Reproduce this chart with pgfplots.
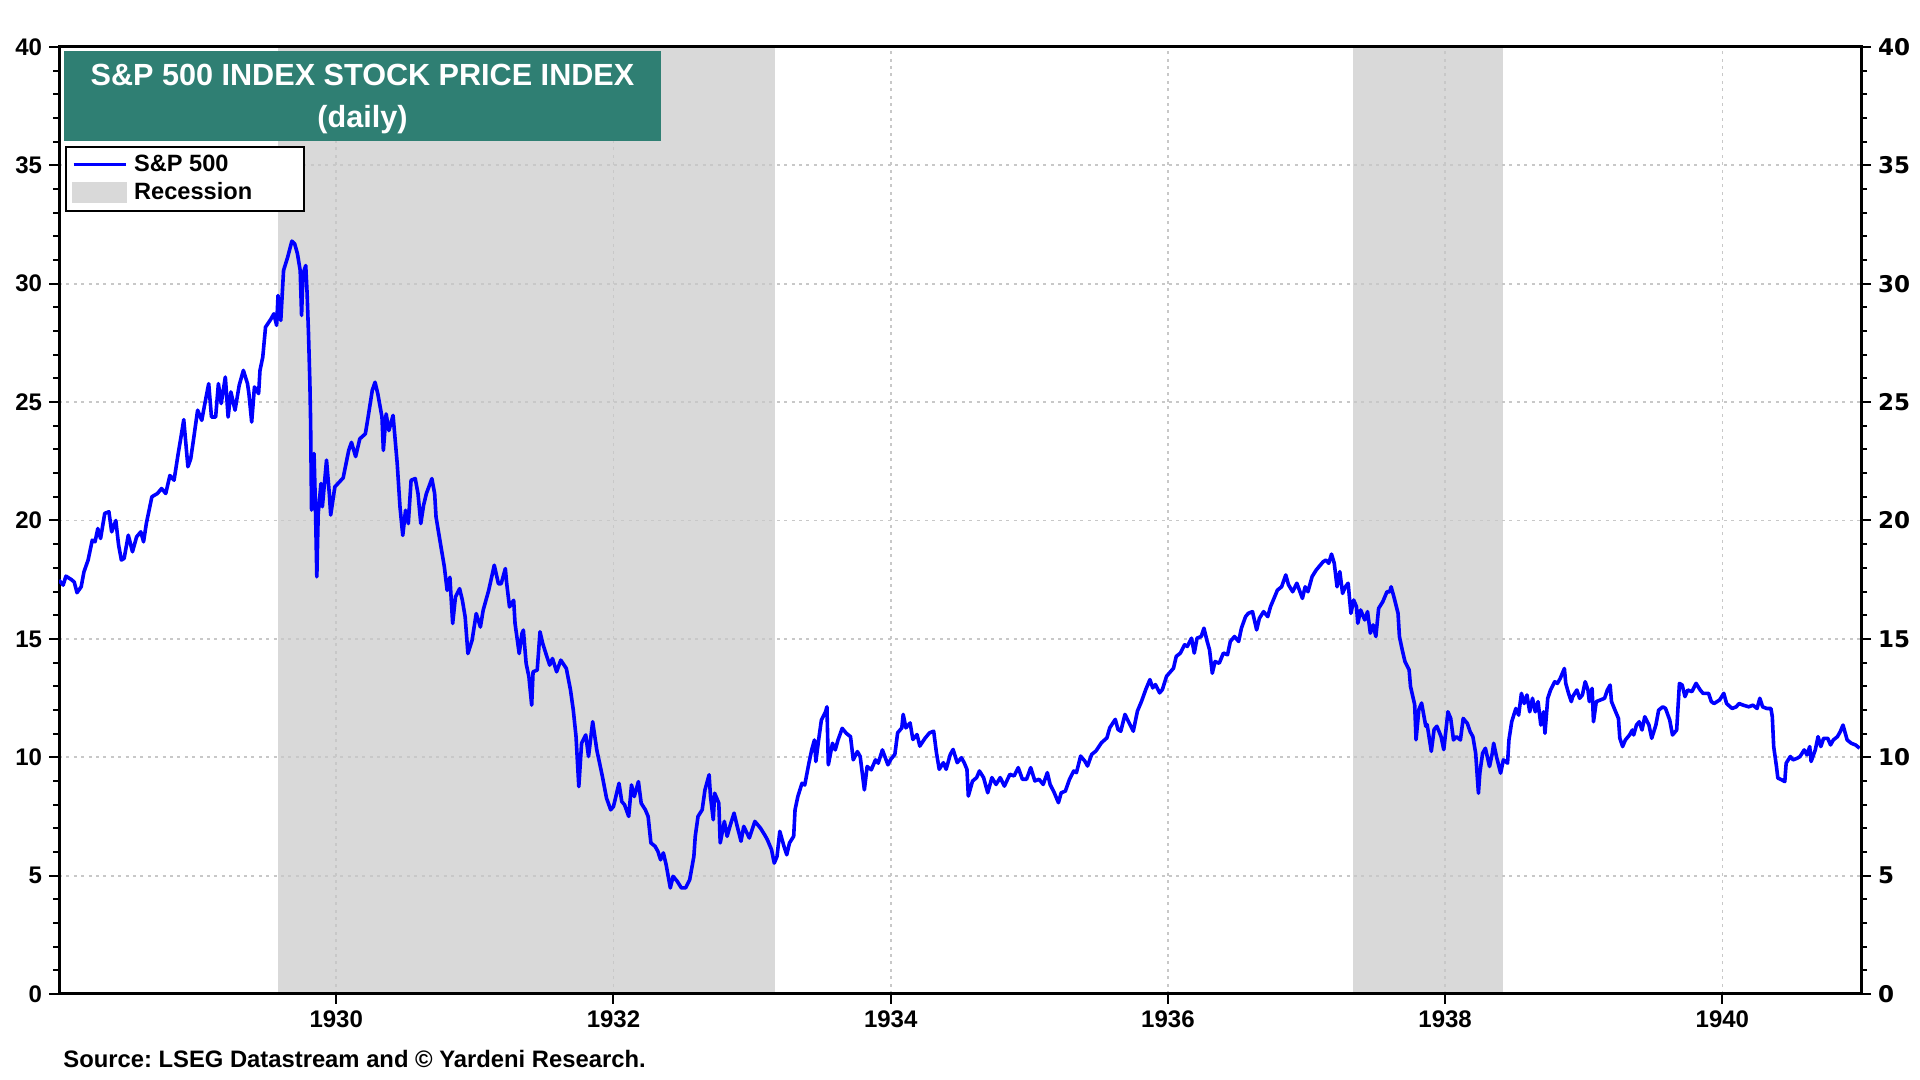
\documentclass[border=0pt]{standalone}
\usepackage{fontspec}
\setmainfont{Liberation Sans}
\newfontfamily\dejavu{DejaVu Sans}
\usepackage{pgfplots}
\pgfplotsset{compat=1.18}
\definecolor{sptitle}{RGB}{47,127,115}
\definecolor{recess}{RGB}{217,217,217}
\definecolor{gridc}{RGB}{200,200,200}
\definecolor{spblue}{RGB}{0,0,255}

\pgfplotstableread{
x y
1928.00 17.48
1928.03 17.27
1928.05 17.65
1928.09 17.50
1928.11 17.40
1928.13 16.95
1928.16 17.20
1928.18 17.83
1928.21 18.33
1928.24 19.17
1928.26 19.10
1928.28 19.66
1928.30 19.24
1928.33 20.30
1928.36 20.37
1928.38 19.52
1928.41 20.00
1928.43 18.96
1928.45 18.33
1928.47 18.40
1928.50 19.38
1928.53 18.68
1928.56 19.31
1928.59 19.52
1928.61 19.10
1928.63 19.87
1928.67 21.00
1928.71 21.14
1928.74 21.35
1928.77 21.14
1928.80 21.90
1928.83 21.70
1928.86 22.83
1928.88 23.53
1928.90 24.26
1928.93 22.27
1928.95 22.60
1928.97 23.40
1929.00 24.66
1929.03 24.23
1929.05 24.87
1929.08 25.78
1929.10 24.37
1929.13 24.37
1929.15 25.78
1929.17 24.94
1929.20 26.06
1929.22 24.37
1929.24 25.43
1929.27 24.66
1929.30 25.71
1929.33 26.34
1929.36 25.78
1929.37 25.36
1929.39 24.16
1929.41 25.64
1929.44 25.36
1929.45 26.34
1929.47 26.90
1929.49 28.17
1929.53 28.52
1929.55 28.73
1929.57 28.24
1929.58 29.50
1929.60 28.45
1929.62 30.56
1929.65 31.13
1929.68 31.80
1929.70 31.69
1929.72 31.27
1929.74 30.56
1929.75 28.66
1929.76 30.42
1929.78 30.77
1929.79 29.58
1929.80 27.89
1929.81 25.78
1929.815 24.23
1929.822 20.44
1929.84 22.83
1929.85 20.58
1929.86 17.62
1929.87 20.30
1929.89 21.56
1929.90 20.58
1929.93 22.55
1929.95 21.14
1929.96 20.23
1929.99 21.42
1930.05 21.80
1930.09 22.96
1930.11 23.30
1930.14 22.70
1930.17 23.45
1930.21 23.66
1930.23 24.37
1930.26 25.50
1930.28 25.84
1930.30 25.35
1930.33 24.37
1930.34 22.96
1930.36 24.50
1930.38 23.80
1930.41 24.44
1930.44 22.40
1930.46 20.57
1930.48 19.37
1930.50 20.43
1930.52 19.87
1930.54 21.70
1930.57 21.77
1930.59 21.13
1930.61 19.87
1930.63 20.64
1930.65 21.13
1930.69 21.77
1930.71 21.13
1930.72 20.15
1930.74 19.44
1930.76 18.74
1930.78 18.04
1930.80 17.05
1930.82 17.60
1930.84 15.65
1930.86 16.77
1930.89 17.12
1930.91 16.63
1930.93 15.93
1930.95 14.38
1930.98 14.94
1931.01 16.07
1931.04 15.50
1931.06 16.21
1931.10 17.05
1931.14 18.11
1931.17 17.33
1931.19 17.33
1931.22 17.97
1931.23 17.33
1931.25 16.35
1931.28 16.63
1931.29 15.65
1931.32 14.38
1931.34 15.23
1931.35 15.37
1931.37 13.96
1931.39 13.40
1931.41 12.20
1931.42 13.61
1931.45 13.68
1931.47 15.30
1931.49 14.80
1931.52 14.24
1931.54 13.89
1931.56 14.17
1931.59 13.61
1931.62 14.10
1931.66 13.75
1931.69 12.84
1931.71 12.00
1931.73 10.87
1931.75 8.76
1931.77 10.59
1931.80 10.94
1931.82 10.03
1931.85 11.50
1931.88 10.30
1931.90 9.75
1931.92 9.19
1931.95 8.27
1931.98 7.78
1932.00 7.92
1932.04 8.90
1932.06 8.13
1932.08 7.99
1932.11 7.50
1932.13 8.83
1932.15 8.34
1932.18 8.97
1932.20 8.06
1932.23 7.78
1932.25 7.50
1932.27 6.38
1932.30 6.24
1932.32 6.03
1932.34 5.67
1932.36 5.96
1932.38 5.46
1932.41 4.48
1932.43 4.97
1932.46 4.76
1932.49 4.48
1932.52 4.48
1932.55 4.83
1932.58 5.81
1932.59 6.66
1932.61 7.50
1932.64 7.78
1932.66 8.62
1932.69 9.26
1932.70 8.34
1932.72 7.36
1932.73 8.48
1932.76 8.06
1932.77 6.38
1932.80 7.29
1932.82 6.66
1932.84 7.08
1932.87 7.64
1932.89 7.15
1932.92 6.45
1932.94 7.08
1932.98 6.59
1933.02 7.29
1933.06 7.01
1933.09 6.73
1933.11 6.52
1933.14 6.10
1933.16 5.53
1933.18 5.81
1933.20 6.87
1933.23 6.24
1933.25 5.88
1933.27 6.38
1933.30 6.66
1933.31 7.78
1933.33 8.34
1933.36 8.90
1933.38 8.83
1933.41 9.75
1933.43 10.31
1933.45 10.73
1933.46 9.82
1933.48 10.73
1933.50 11.57
1933.53 11.92
1933.54 12.13
1933.55 9.68
1933.58 10.59
1933.60 10.31
1933.62 10.73
1933.65 11.22
1933.68 11.01
1933.71 10.87
1933.73 9.89
1933.76 10.24
1933.78 10.03
1933.81 8.62
1933.83 9.61
1933.86 9.47
1933.89 9.89
1933.91 9.75
1933.94 10.31
1933.98 9.68
1934.00 9.91
1934.03 10.12
1934.05 11.03
1934.08 11.24
1934.09 11.81
1934.11 11.24
1934.14 11.45
1934.16 10.75
1934.19 10.96
1934.21 10.47
1934.25 10.82
1934.28 11.03
1934.31 11.10
1934.33 10.19
1934.35 9.49
1934.38 9.77
1934.40 9.49
1934.43 10.12
1934.45 10.33
1934.48 9.77
1934.51 9.98
1934.53 9.77
1934.55 9.49
1934.56 8.36
1934.59 8.99
1934.62 9.14
1934.64 9.42
1934.67 9.14
1934.70 8.50
1934.73 9.14
1934.76 8.85
1934.79 9.14
1934.82 8.78
1934.86 9.28
1934.89 9.21
1934.92 9.56
1934.95 9.07
1934.98 9.07
1935.01 9.56
1935.04 9.00
1935.07 9.07
1935.10 8.85
1935.13 9.35
1935.15 8.85
1935.18 8.50
1935.21 8.08
1935.23 8.50
1935.26 8.57
1935.29 9.07
1935.32 9.42
1935.34 9.35
1935.37 10.05
1935.40 9.84
1935.42 9.63
1935.45 10.12
1935.48 10.26
1935.52 10.61
1935.56 10.82
1935.58 11.24
1935.62 11.60
1935.64 11.17
1935.66 11.10
1935.69 11.81
1935.72 11.45
1935.75 11.10
1935.78 11.95
1935.81 12.37
1935.84 12.86
1935.87 13.28
1935.89 12.93
1935.91 13.07
1935.94 12.72
1935.96 12.86
1935.99 13.42
1936.04 13.76
1936.06 14.26
1936.09 14.40
1936.12 14.75
1936.14 14.68
1936.17 15.03
1936.19 14.40
1936.21 15.03
1936.24 15.10
1936.26 15.45
1936.28 14.96
1936.30 14.54
1936.32 13.55
1936.34 14.04
1936.37 13.97
1936.40 14.40
1936.43 14.33
1936.45 14.89
1936.48 15.10
1936.51 14.89
1936.53 15.45
1936.56 15.94
1936.58 16.08
1936.61 16.15
1936.64 15.38
1936.66 15.87
1936.69 16.15
1936.72 15.94
1936.74 16.36
1936.77 16.78
1936.79 17.06
1936.82 17.20
1936.85 17.70
1936.87 17.28
1936.90 16.99
1936.93 17.35
1936.97 16.71
1936.99 17.20
1937.01 16.99
1937.04 17.63
1937.07 17.91
1937.10 18.12
1937.12 18.26
1937.14 18.33
1937.16 18.19
1937.18 18.58
1937.20 18.19
1937.22 17.20
1937.24 17.84
1937.26 16.92
1937.28 17.20
1937.30 17.35
1937.32 16.08
1937.34 16.64
1937.36 16.36
1937.37 15.66
1937.39 16.22
1937.42 15.80
1937.44 16.15
1937.46 15.24
1937.48 15.59
1937.50 15.10
1937.52 16.29
1937.55 16.57
1937.58 16.99
1937.60 16.99
1937.61 17.20
1937.63 16.78
1937.66 16.08
1937.67 15.10
1937.69 14.54
1937.71 14.04
1937.74 13.69
1937.75 12.99
1937.78 12.22
1937.79 10.74
1937.81 12.01
1937.83 12.29
1937.86 11.31
1937.87 11.38
1937.90 10.25
1937.92 11.17
1937.94 11.31
1937.97 10.88
1937.99 10.32
1938.02 11.92
1938.04 11.64
1938.06 10.73
1938.08 10.87
1938.11 10.73
1938.13 11.64
1938.16 11.43
1938.18 11.08
1938.20 10.87
1938.22 10.17
1938.24 8.48
1938.25 9.33
1938.27 10.17
1938.29 10.38
1938.32 9.61
1938.34 10.17
1938.35 10.59
1938.37 10.03
1938.40 9.33
1938.42 9.89
1938.45 9.75
1938.46 10.73
1938.48 11.50
1938.51 12.06
1938.53 11.78
1938.55 12.70
1938.57 12.27
1938.59 12.63
1938.61 11.92
1938.63 12.49
1938.65 11.92
1938.67 12.35
1938.69 11.36
1938.71 11.92
1938.72 11.01
1938.74 12.49
1938.76 12.84
1938.79 13.19
1938.81 13.12
1938.83 13.33
1938.86 13.75
1938.87 13.12
1938.89 12.70
1938.91 12.35
1938.92 12.56
1938.95 12.84
1938.97 12.49
1938.99 12.63
1939.01 13.19
1939.03 12.84
1939.04 12.35
1939.06 12.91
1939.07 11.50
1939.09 12.35
1939.12 12.42
1939.15 12.49
1939.17 12.84
1939.19 13.05
1939.20 12.35
1939.23 11.92
1939.25 11.64
1939.26 10.80
1939.28 10.45
1939.30 10.73
1939.33 10.94
1939.35 11.15
1939.36 10.94
1939.38 11.36
1939.40 11.50
1939.42 11.15
1939.44 11.71
1939.47 11.36
1939.49 10.80
1939.52 11.36
1939.54 11.99
1939.57 12.13
1939.59 12.06
1939.62 11.57
1939.64 10.94
1939.67 11.15
1939.69 13.12
1939.71 13.05
1939.73 12.56
1939.75 12.84
1939.78 12.77
1939.81 13.12
1939.84 12.84
1939.86 12.70
1939.90 12.70
1939.92 12.35
1939.94 12.27
1939.98 12.42
1940.01 12.70
1940.03 12.27
1940.07 12.06
1940.10 12.13
1940.12 12.27
1940.15 12.20
1940.19 12.13
1940.22 12.20
1940.25 12.06
1940.27 12.49
1940.29 12.13
1940.32 12.06
1940.35 12.06
1940.36 11.71
1940.37 10.45
1940.39 9.61
1940.40 9.12
1940.43 9.04
1940.45 8.97
1940.46 9.75
1940.49 10.03
1940.51 9.89
1940.54 9.96
1940.56 10.03
1940.59 10.31
1940.61 10.10
1940.63 10.45
1940.64 9.82
1940.67 10.31
1940.69 10.87
1940.71 10.45
1940.73 10.80
1940.76 10.80
1940.78 10.52
1940.80 10.73
1940.83 10.87
1940.85 11.08
1940.87 11.36
1940.88 11.15
1940.90 10.73
1940.93 10.59
1940.96 10.52
1940.99 10.38
}\spdata

\begin{document}
\frenchspacing
\begin{tikzpicture}
\useasboundingbox (0,0) rectangle (960pt,540pt);
% recession bands (drawn first, under the grid)
\begin{axis}[
  at={(29.5pt,43pt)}, anchor=south west,
  scale only axis, width=901pt, height=473.5pt,
  xmin=1928, xmax=1941, ymin=0, ymax=40,
  axis lines=none, ticks=none,
]
\addplot[fill=recess, draw=none] coordinates {(1929.583,40) (1933.167,40)} \closedcycle;
\addplot[fill=recess, draw=none] coordinates {(1937.333,40) (1938.417,40)} \closedcycle;
\end{axis}
% main axis
\begin{axis}[
  at={(29.5pt,43pt)}, anchor=south west,
  scale only axis, width=901pt, height=473.5pt,
  xmin=1928, xmax=1941, ymin=0, ymax=40,
  xtick={1930,1932,...,1940},
  minor x tick num=7,
  ytick={0,5,...,40},
  minor y tick num=4,
  xtick pos=bottom, ytick pos=left,
  tick align=outside,
  major tick length=5pt, minor tick length=3pt,
  every tick/.style={black, line width=1pt},
  axis line style={black, line width=1.5pt},
  /pgf/number format/assume math mode=true,
  /pgf/number format/1000 sep={},
  xticklabel style={font=\bfseries\fontsize{12}{12}\selectfont},
  yticklabel style={font=\bfseries\fontsize{12}{12}\selectfont},
  grid=major,
  major grid style={gridc, line width=0.9pt, dash pattern=on 1.5pt off 2.2pt},
  legend style={at={(0.0033,0.8955)}, anchor=north west, draw=black,
    line width=1.2pt, font=\bfseries\fontsize{11.8}{11.8}\selectfont,
    inner xsep=3pt, inner ysep=2pt, row sep=0pt},
  legend cell align=left,
]
\addlegendimage{legend image code/.code={\draw[spblue, line width=1.5pt] (0pt,0pt) -- (26pt,0pt);}}
\addlegendentry{\hspace*{1.5pt}S\&P 500}
\addlegendimage{legend image code/.code={\fill[recess] (0pt,-4.5pt) rectangle (26pt,4.5pt);}}
\addlegendentry{\hspace*{1.5pt}Recession\hspace*{21pt}}
\addplot[spblue, line width=1.8pt, line join=round, forget plot] table[x=x, y=y] {\spdata};
\end{axis}
% right axis
\begin{axis}[
  at={(29.5pt,43pt)}, anchor=south west,
  scale only axis, width=901pt, height=473.5pt,
  xmin=1928, xmax=1941, ymin=0, ymax=40,
  axis x line=none, axis y line*=right,
  ytick={0,5,...,40},
  minor y tick num=4,
  tick align=outside,
  major tick length=5pt, minor tick length=3pt,
  every tick/.style={black, line width=1pt},
  axis line style={black, line width=1.5pt},
  /pgf/number format/assume math mode=true,
  yticklabel style={font=\dejavu\bfseries\fontsize{11.5}{11.5}\selectfont},
]
\addplot[draw=none] coordinates {(1930,0)};
\end{axis}
\fill[sptitle] (32pt,469.5pt) rectangle (330.5pt,514.5pt);
\node[white, font=\bfseries\fontsize{15.3}{21}\selectfont, align=center] at (181.25pt,490.3pt) {S\&P 500 INDEX STOCK PRICE INDEX\\(daily)};
\node[anchor=base west, font=\bfseries\fontsize{11.9}{11.9}\selectfont, inner sep=0pt] at (31.5pt,6pt) {Source: LSEG Datastream and © Yardeni Research.};
\end{tikzpicture}
\end{document}
